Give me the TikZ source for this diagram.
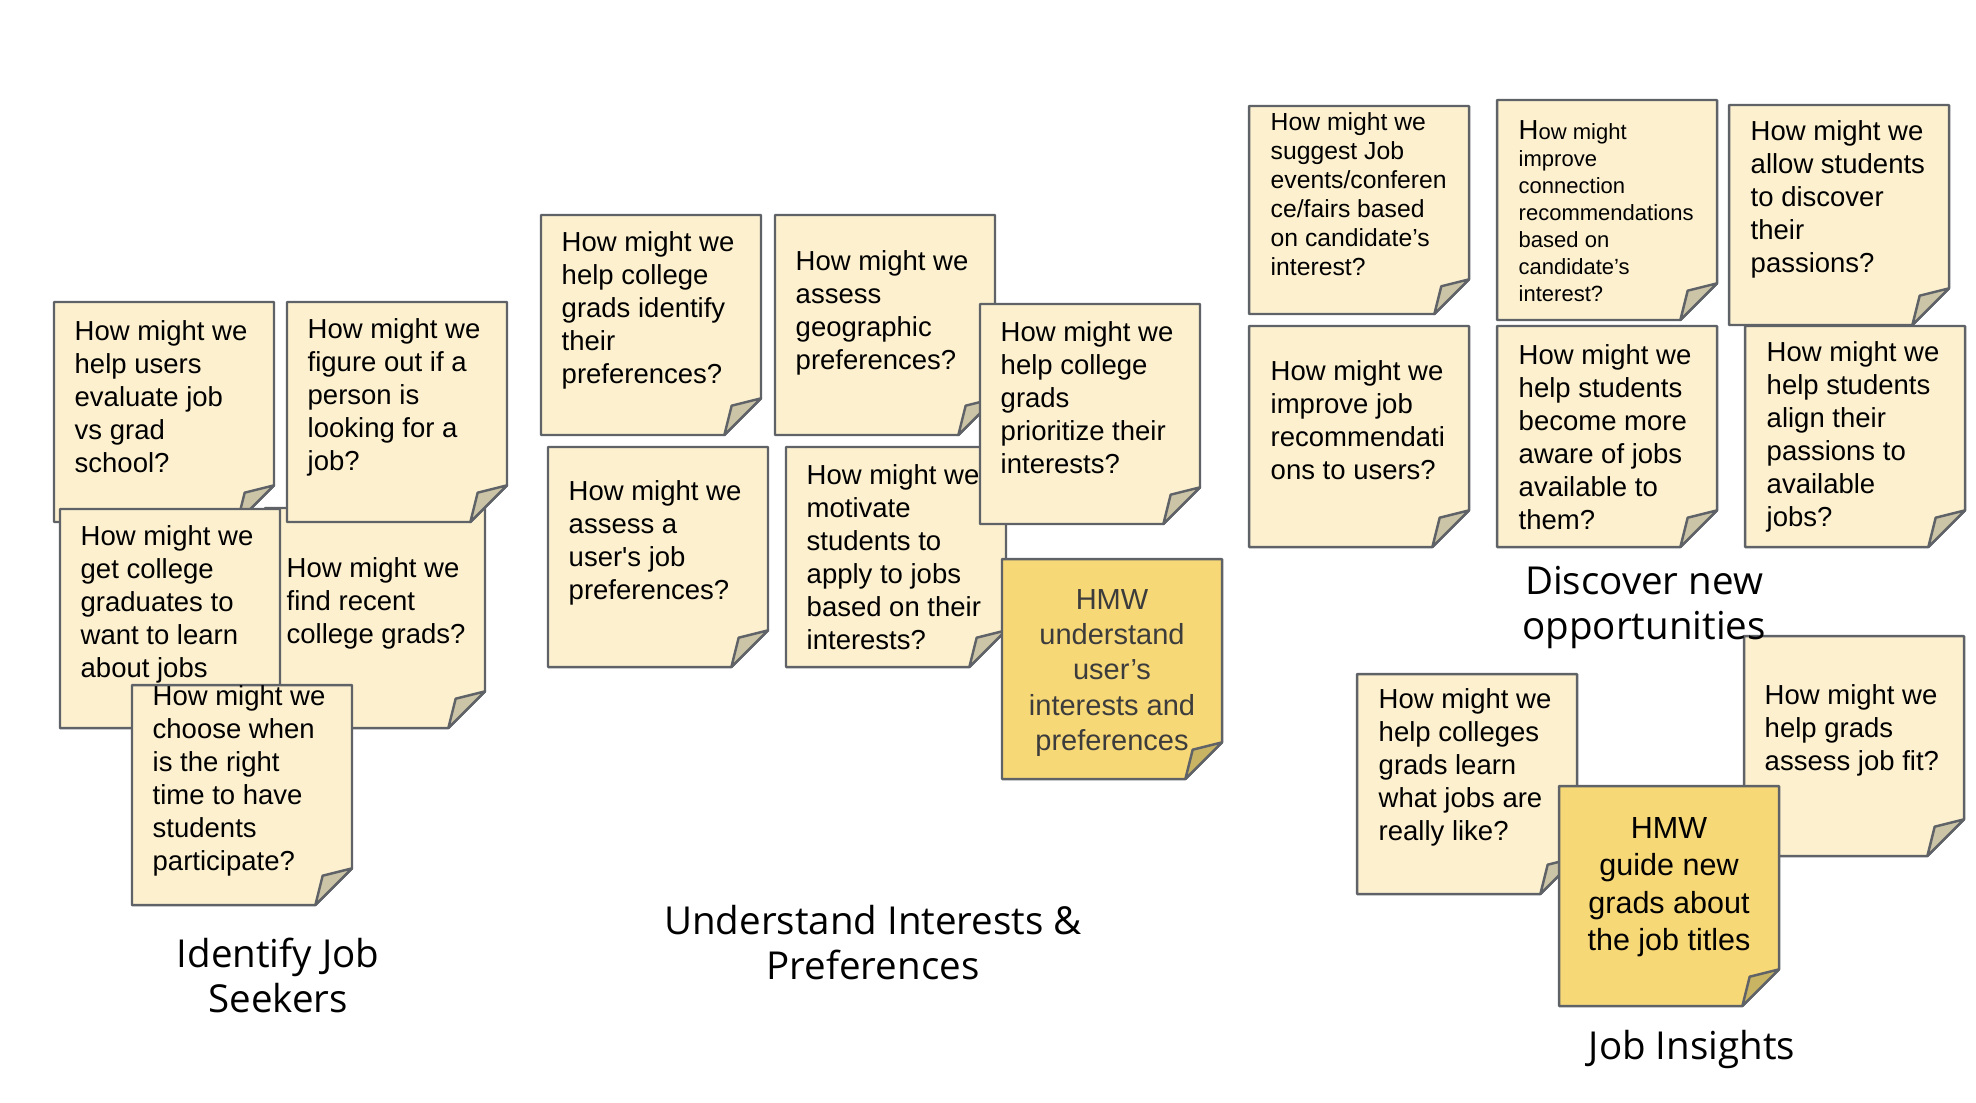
\documentclass[tikz,border=0pt]{standalone}
\usepackage{fontspec}
\newfontfamily\notefont{Liberation Sans}
\newfontfamily\topicfont{Open Sans}

\definecolor{notefill}{HTML}{FCF0CF}
\definecolor{notecurl}{HTML}{CCC4A6}
\definecolor{goldfill}{HTML}{F7D877}
\definecolor{goldcurl}{HTML}{C9B464}
\definecolor{noteline}{HTML}{5F6368}
\definecolor{hmwtext}{HTML}{3C3C3C}

% sticky note: kind, left, top, width, height (in px)
\newcommand{\notebox}[5]{%
  \pgfmathsetmacro\stkd{min(#4,#5)/6}%
  \pgfmathsetmacro\stkr{#2+#4}%
  \pgfmathsetmacro\stkb{#3+#5}%
  \filldraw[#1] (#2,#3) -- (\stkr,#3) -- (\stkr,\stkb-\stkd) -- (\stkr-\stkd,\stkb) -- (#2,\stkb) -- cycle;
  \filldraw[#1 curl] (\stkr-\stkd,\stkb) -- (\stkr-0.8*\stkd,\stkb-0.8*\stkd) -- (\stkr,\stkb-\stkd) -- cycle;
}

\begin{document}
\begin{tikzpicture}[x=0.01cm,y=-0.01cm]
\tikzstyle{pale}=[fill=notefill,draw=noteline,line width=0.7pt,line join=round]
\tikzstyle{pale curl}=[fill=notecurl,draw=noteline,line width=0.7pt,line join=round]
\tikzstyle{gold}=[fill=goldfill,draw=noteline,line width=0.7pt,line join=round]
\tikzstyle{gold curl}=[fill=goldcurl,draw=noteline,line width=0.7pt,line join=round]
\tikzstyle{hmw}=[inner sep=0pt,anchor=west,align=left,font=\notefont\fontsize{7.82}{9.39}\selectfont]
\tikzstyle{hmw small}=[hmw,font=\notefont\fontsize{7.03}{8.25}\selectfont]
\tikzstyle{hmw tiny}=[hmw,font=\notefont\fontsize{6.26}{7.68}\selectfont]
\tikzstyle{hmw gold}=[inner sep=0pt,align=center,text=hmwtext,font=\notefont\fontsize{8.25}{10.05}\selectfont]
\tikzstyle{topic}=[inner sep=0pt,align=center,font=\topicfont\fontsize{10.95}{12.8}\selectfont]

\useasboundingbox (0,0) rectangle (1976,1102);

% identify job seekers
\notebox{pale}{54}{302}{220}{220}
\node[hmw] (evaluate) at (74,397) {How might we\\help users\\evaluate job\\vs grad\\school?};
\notebox{pale}{265}{508}{220}{220}
\node[hmw] (findgrads) at (286,603) {How might we\\find recent\\college grads?};
\notebox{pale}{287}{302}{220}{220}
\node[hmw] (lookingjob) at (307,397) {How might we\\figure out if a\\person is\\looking for a\\job?};
\notebox{pale}{60}{509}{220}{219}
\node[hmw] (learnjobs) at (80,604) {How might we\\get college\\graduates to\\want to learn\\about jobs};
\notebox{pale}{132}{685}{220}{220}
\node[hmw] (righttime) at (152,781) {How might we\\choose when\\is the right\\time to have\\students\\participate?};
\node[topic] (seekers) at (278,975) {Identify Job\\Seekers};

% understand interests
\notebox{pale}{541}{215}{220}{220}
\node[hmw] (identifyprefs) at (561,310) {How might we\\help college\\grads identify\\their\\preferences?};
\notebox{pale}{775}{215}{220}{220}
\node[hmw] (geoprefs) at (795,313) {How might we\\assess\\geographic\\preferences?};
\notebox{pale}{548}{447}{220}{220}
\node[hmw] (jobprefs) at (568,543) {How might we\\assess a\\user's job\\preferences?};
\notebox{pale}{786}{447}{220}{220}
\node[hmw] (motivate) at (806,557) {How might we\\motivate\\students to\\apply to jobs\\based on their\\interests?};
\notebox{pale}{980}{304}{220}{220}
\node[hmw] (prioritize) at (1000,398) {How might we\\help college\\grads\\prioritize their\\interests?};
\notebox{gold}{1002}{559}{220}{220}
\node[hmw gold] (understand) at (1112,673) {HMW\\understand\\user’s\\interests and\\preferences};
\node[topic] (interests) at (873,943) {Understand Interests \&\\Preferences};

% discover new opportunities
\notebox{pale}{1249}{106}{220}{208}
\node[hmw small] (events) at (1270,194) {How might we\\suggest Job\\events/conferen\\ce/fairs based\\on candidate’s\\interest?};
\notebox{pale}{1497}{100}{220}{220}
\node[hmw tiny] (connection) at (1518,211) {{\fontsize{7.82}{7.68}\selectfont H}ow might\\improve\\connection\\recommendations\\based on\\candidate’s\\interest?};
\notebox{pale}{1729}{105}{220}{220}
\node[hmw] (passions) at (1750,199) {How might we\\allow students\\to discover\\their\\passions?};
\notebox{pale}{1249}{326}{220}{221}
\node[hmw] (improvejob) at (1270,420) {How might we\\improve job\\recommendati\\ons to users?};
\notebox{pale}{1497}{326}{220}{221}
\node[hmw] (aware) at (1518,437) {How might we\\help students\\become more\\aware of jobs\\available to\\them?};
\notebox{pale}{1745}{326}{220}{221}
\node[hmw] (align) at (1766,437) {How might we\\help students\\align their\\passions to\\available\\jobs?};

% job insights
\notebox{pale}{1357}{674}{220}{220}
\node[hmw] (learnlike) at (1378,767) {How might we\\help colleges\\grads learn\\what jobs are\\really like?};
\notebox{pale}{1744}{636}{220}{220}
\node[hmw] (jobfit) at (1764,730) {How might we\\help grads\\assess job fit?};
\notebox{gold}{1559}{786}{220}{220}
\node[hmw gold,text=black,font=\notefont\fontsize{8.68}{10.64}\selectfont] (guide) at (1669,887) {HMW\\guide new\\grads about\\the job titles};
\node[topic] (discover) at (1644,607) {Discover new\\opportunities};
\node[topic] (insights) at (1692,1049) {Job Insights};
\end{tikzpicture}
\end{document}
